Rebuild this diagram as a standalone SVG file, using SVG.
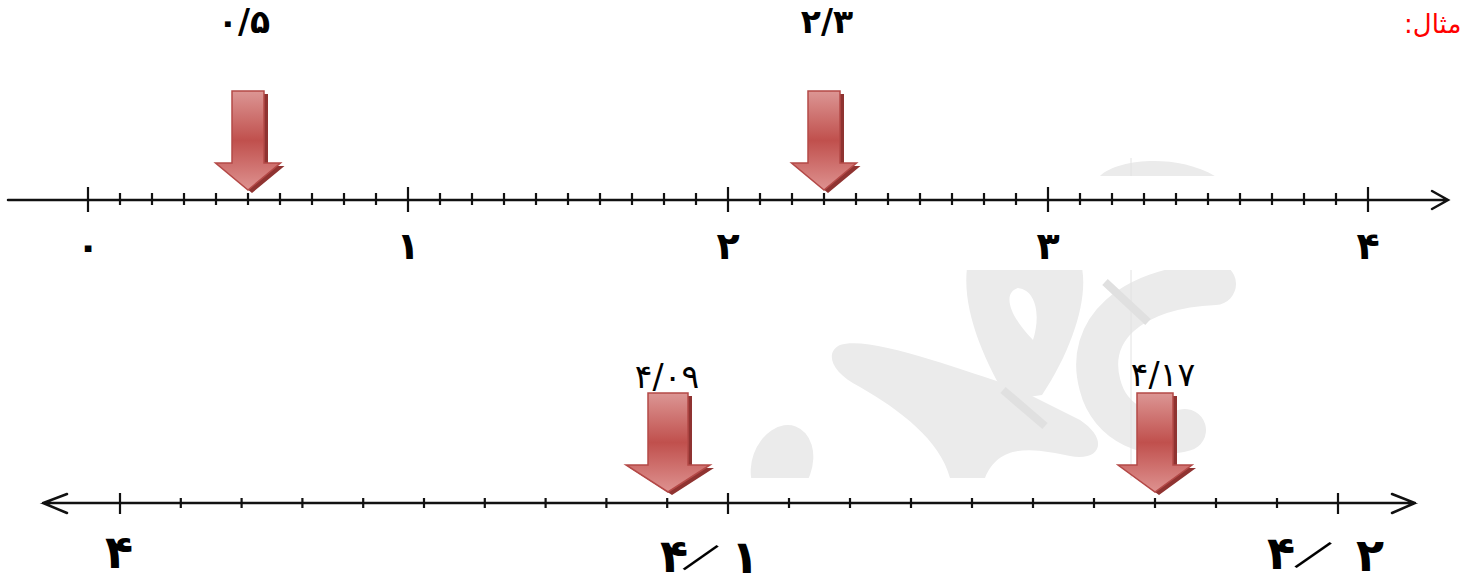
<svg xmlns="http://www.w3.org/2000/svg" width="1461" height="584" viewBox="0 0 1461 584">
<style>
.axis{stroke:#111;stroke-width:2.5;fill:none;stroke-linecap:round}
.tick{stroke:#111;stroke-width:2.2;fill:none}
.arrow{fill:url(#ag);stroke:#b44947;stroke-width:1.5;stroke-linejoin:miter}
.shadow{fill:#8f3331}
.num{font-family:"DejaVu Sans",sans-serif;font-weight:bold;fill:#000;text-anchor:middle}
.lbl{font-family:"DejaVu Sans",sans-serif;fill:#000;text-anchor:middle}
.wm{fill:#ebebeb}
</style>
<defs>
<linearGradient id="ag" x1="0" y1="0" x2="0" y2="1">
<stop offset="0" stop-color="#dc9694"/>
<stop offset="0.5" stop-color="#c0504d"/>
<stop offset="1" stop-color="#de9290"/>
</linearGradient>
<clipPath id="wmclip">
<rect x="740" y="158" width="520" height="18"/>
<rect x="740" y="270" width="520" height="208"/>
</clipPath>
</defs>
<rect width="1461" height="584" fill="#fff"/>

<g id="watermark" clip-path="url(#wmclip)">
<path class="wm" d="M1098,178 C1115,158 1180,153 1218,178 Z"/>
<path class="wm" fill-rule="evenodd" d="M967,268 L1082,268 C1088,300 1072,350 1042,395 L1008,400 C984,360 962,310 967,268 Z M1018,288 C1004,292 1006,312 1033,340 C1041,315 1036,290 1018,288 Z"/>
<path class="wm" d="M840,345 C870,335 960,370 1010,385 L1080,420 C1110,440 1100,462 1070,456 C1040,450 1000,440 985,478 L950,478 C940,440 900,410 860,387 C830,372 825,352 840,345 Z"/>
<path d="M1215,284 C1130,288 1085,330 1100,385 C1110,425 1150,440 1185,430" fill="none" stroke="#ebebeb" stroke-width="42" stroke-linecap="round"/>
<ellipse class="wm" cx="782" cy="464" rx="30" ry="40" transform="rotate(20 782 464)"/>
<line x1="1131" y1="158" x2="1131" y2="478" stroke="#e2e2e2" stroke-width="1"/>
<line x1="1003" y1="390" x2="1045" y2="426" stroke="#e0e0e0" stroke-width="8"/>
<line x1="1105" y1="282" x2="1148" y2="322" stroke="#e0e0e0" stroke-width="8"/>
</g>

<text id="title" x="1404" y="33" direction="rtl" text-anchor="end" font-family="DejaVu Sans, sans-serif" font-size="26" fill="#ff0000">مثال:</text>

<g id="connectors">
<path class="axis" d="M8,200 H1447 M1432,191 L1448,200 L1432,209"/>
<path class="tick" d="M88,187 V212 M408,187 V212 M728,187 V212 M1048,187 V212 M1368,187 V212"/>
<path class="tick" d="M120,193V205M152,193V205M184,193V205M216,193V205M248,193V205M280,193V205M312,193V205M344,193V205M376,193V205M440,193V205M472,193V205M504,193V205M536,193V205M568,193V205M600,193V205M632,193V205M664,193V205M696,193V205M760,193V205M792,193V205M824,193V205M856,193V205M888,193V205M920,193V205M952,193V205M984,193V205M1016,193V205M1080,193V205M1112,193V205M1144,193V205M1176,193V205M1208,193V205M1240,193V205M1272,193V205M1304,193V205M1336,193V205"/>
<path class="axis" d="M43,503 H1415 M67,494 L43,503 L67,513 M1392,494 L1415,503 L1392,513"/>
<path class="tick" d="M120,493 V514 M728,493 V514 M1338,493 V514"/>
<path class="tick" d="M180.8,498V508M241.6,498V508M302.4,498V508M363.2,498V508M424,498V508M484.8,498V508M545.6,498V508M606.4,498V508M667.2,498V508M789,498V508M850,498V508M911,498V508M972,498V508M1033,498V508M1094,498V508M1155,498V508M1216,498V508M1277,498V508"/>
</g>

<g id="top-labels">
<text class="num" x="88" y="259" font-size="38">۰</text>
<text class="num" x="408" y="259" font-size="38">۱</text>
<text class="num" x="728" y="259" font-size="38">۲</text>
<text class="num" x="1048" y="259" font-size="38">۳</text>
<text class="num" x="1368" y="259" font-size="38">۴</text>
</g>

<g id="arrow-05">
<polygon class="shadow" points="232,91 264,91 264,163 280.5,163 248,190 215.5,163 232,163" transform="translate(4,3)"/>
<polygon class="arrow" points="232,91 264,91 264,163 280.5,163 248,190 215.5,163 232,163"/>
<text class="num" x="244" y="33" font-size="33" letter-spacing="5">۰/۵</text>
</g>
<g id="arrow-23">
<polygon class="shadow" points="808,91 840,91 840,163 856.5,163 824,190 791.5,163 808,163" transform="translate(4,3)"/>
<polygon class="arrow" points="808,91 840,91 840,163 856.5,163 824,190 791.5,163 808,163"/>
<text class="num" x="827" y="33" font-size="33" letter-spacing="5">۲/۳</text>
</g>
<g id="arrow-409">
<polygon class="shadow" points="648,393 688,393 688,465 710,465 668,492 626,465 648,465" transform="translate(4,3)"/>
<polygon class="arrow" points="648,393 688,393 688,465 710,465 668,492 626,465 648,465"/>
<text class="lbl" x="667" y="388" font-size="33" letter-spacing="9">۴/۰۹</text>
</g>
<g id="arrow-417">
<polygon class="shadow" points="1137,393 1173,393 1173,465 1192,465 1155,492 1118,465 1137,465" transform="translate(4,3)"/>
<polygon class="arrow" points="1137,393 1173,393 1173,465 1192,465 1155,492 1118,465 1137,465"/>
<text class="lbl" x="1163" y="386" font-size="33" letter-spacing="11">۴/۱۷</text>
</g>

<g id="bottom-labels">
<text class="num" x="119" y="568" font-size="46">۴</text>
<g id="label-41">
<text class="num" x="674" y="572" font-size="46">۴</text>
<text x="701" y="574" font-family="Roboto, sans-serif" font-weight="300" font-size="50" text-anchor="middle" transform="rotate(34 701 558)">/</text>
<text class="num" x="745" y="573" font-size="46">۱</text>
</g>
<g id="label-42">
<text class="num" x="1281" y="569" font-size="46">۴</text>
<text x="1313" y="572" font-family="Roboto, sans-serif" font-weight="300" font-size="52" text-anchor="middle" transform="rotate(34 1313 556)">/</text>
<text class="num" x="1370" y="571" font-size="46">۲</text>
</g>
</g>
</svg>
